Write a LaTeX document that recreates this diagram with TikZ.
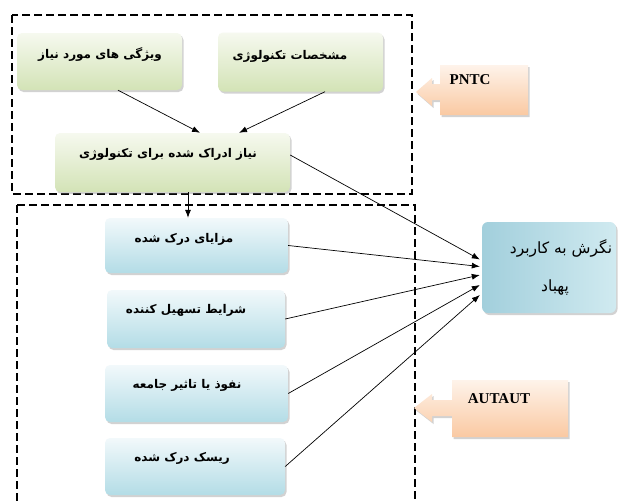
\documentclass[tikz,border=0pt]{standalone}
\usepackage{fontspec}
\setmainfont{Liberation Serif}
\newfontfamily\fa[Script=Arabic]{DejaVu Sans}
\TeXXeTstate=1
\usetikzlibrary{shadows,arrows.meta,calc}
\definecolor{gtop}{HTML}{F6F9EF}
\definecolor{gbot}{HTML}{D3E3B6}
\definecolor{btop}{HTML}{F2F9FB}
\definecolor{bbot}{HTML}{B3DCE6}
\definecolor{rleft}{HTML}{A2CFDC}
\definecolor{rright}{HTML}{D0EAF0}
\definecolor{otop}{HTML}{FEF3EA}
\definecolor{obot}{HTML}{FAC9A2}
\tikzset{
  shad/.style={drop shadow={opacity=0.35, shadow xshift=1.5pt, shadow yshift=-2pt}},
  greenbox/.style={rounded corners=5pt, top color=gtop, bottom color=gbot, shad, inner sep=0pt},
  bluebox/.style={rounded corners=5pt, top color=btop, bottom color=bbot, shad, inner sep=0pt},
  rbox/.style={rounded corners=6pt, left color=rleft, right color=rright, shad, inner sep=0pt},
  lbl/.style={font=\fa\bfseries\fontsize{12}{14}\selectfont, inner sep=0pt},
  rlbl/.style={font=\fa\fontsize{15.5}{17}\selectfont, inner sep=0pt},
  elbl/.style={font=\bfseries\fontsize{15}{17}\selectfont, inner sep=0pt},
  callout/.style={top color=otop, bottom color=obot, shad},
  dbox/.style={draw=black, line width=1.6pt, dash pattern=on 8pt off 4pt},
  arr/.style={draw=black, line width=0.7pt, -{Latex[length=8pt,width=6pt]}}
}
\begin{document}
\begin{tikzpicture}[x=1pt,y=-1pt]
\useasboundingbox[fill=white] (0,0) rectangle (618,501);
% dashed groups
\draw[dbox] (12,15) rectangle (412,194);
\draw[dbox] (17,205) -- (415,205) -- (415,512);
\draw[dbox] (17,205) -- (17,512);
% green boxes
\node[greenbox, minimum width=165pt, minimum height=57pt] (g1) at (99.5,61.5) {};
\node[lbl] (g1t) at (100,55) {\beginR ویژگی های مورد نیاز\endR};
\node[greenbox, minimum width=165pt, minimum height=59pt] (g2) at (300.5,62) {};
\node[lbl] (g2t) at (290,56) {\beginR مشخصات تکنولوژی\endR};
\node[greenbox, minimum width=235pt, minimum height=59pt] (g3) at (172.5,162.5) {};
\node[lbl] (g3t) at (168,154) {\beginR نیاز ادراک شده برای تکنولوژی\endR};
% blue boxes
\node[bluebox, minimum width=183pt, minimum height=55pt] (b1) at (196.5,245.5) {};
\node[lbl] (b1t) at (184,239) {\beginR مزایای درک شده\endR};
\node[bluebox, minimum width=178pt, minimum height=58pt] (b2) at (196,319) {};
\node[lbl] (b2t) at (186,310) {\beginR شرایط تسهیل کننده\endR};
\node[bluebox, minimum width=183pt, minimum height=57pt] (b3) at (196.5,393.5) {};
\node[lbl] (b3t) at (187,385) {\beginR نفوذ یا تاثیر جامعه\endR};
\node[bluebox, minimum width=180pt, minimum height=57pt] (b4) at (195,466.5) {};
\node[lbl] (b4t) at (182,458) {\beginR ریسک درک شده\endR};
% result box
\node[rbox, minimum width=134pt, minimum height=91pt] (r) at (549,267.5) {};
\node[rlbl] (rt1) at (561,248) {\beginR نگرش به کاربرد\endR};
\node[rlbl] (rt2) at (555,287) {\beginR پهباد\endR};
% callouts
\path[callout] (440,65) -- (528,65) -- (528,115) -- (440,115) -- (440,100) -- (432,100) -- (432,106) -- (416,92) -- (432,78) -- (432,84) -- (440,84) -- cycle;
\node[elbl] (pntc) at (470,80) {PNTC};
\path[callout] (452,380) -- (568,380) -- (568,437) -- (452,437) -- (452,416) -- (432,416) -- (432,422) -- (414,408) -- (432,394) -- (432,400) -- (452,400) -- cycle;
\node[elbl] (aut) at (499,399) {AUTAUT};
% connectors
\draw[arr] ([xshift=18.5pt]g1.south) -- ([xshift=27.5pt]g3.north);
\draw[arr] ([xshift=24.5pt]g2.south) -- ([xshift=66.5pt]g3.north);
\coordinate (g3s) at ([xshift=15.5pt]g3.south);
\draw[arr] (g3s) -- (g3s |- b1.north);
\draw[arr] ([yshift=7.5pt]g3.east) -- ([xshift=-2pt,yshift=8pt]r.west);
\draw[arr] (b1.east) -- ([xshift=-2pt,yshift=1pt]r.west);
\draw[arr] (b2.east) -- ([xshift=-2pt,yshift=-7.5pt]r.west);
\draw[arr] (b3.east) -- ([xshift=-2pt,yshift=-17.5pt]r.west);
\draw[arr] (b4.east) -- ([xshift=-2pt,yshift=-27.5pt]r.west);
\end{tikzpicture}
\end{document}
